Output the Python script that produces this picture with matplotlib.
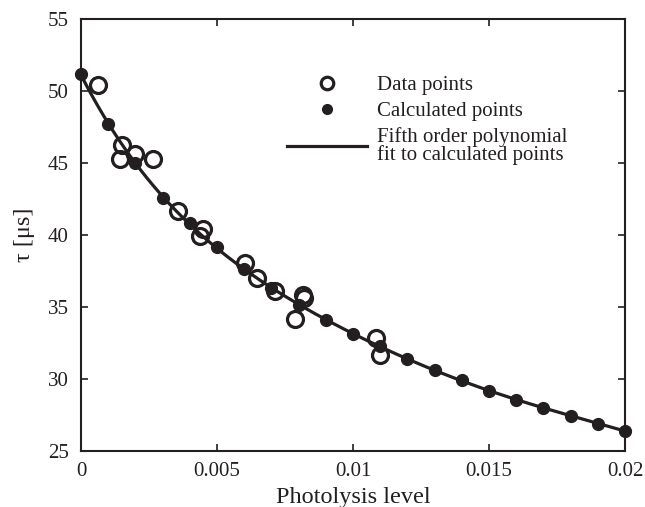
import numpy as np
import matplotlib
matplotlib.use('Agg')
import matplotlib.pyplot as plt
from matplotlib.lines import Line2D

plt.rcParams['font.family'] = ['Liberation Serif', 'DejaVu Serif']

# calculated points
calc_x = [0.0, 0.001, 0.002, 0.003, 0.004, 0.005, 0.006, 0.007, 0.008, 0.009, 0.010,
          0.011, 0.012, 0.013, 0.014, 0.015, 0.016, 0.017, 0.018, 0.019, 0.020]
calc_y = [51.15, 47.7, 45.0, 42.6, 40.8, 39.15, 37.65, 36.3, 35.15, 34.1, 33.1,
          32.3, 31.4, 30.6, 29.9, 29.2, 28.55, 28.0, 27.45, 26.9, 26.4]

# measured data points
data_x = [0.00063, 0.0015, 0.00145, 0.002, 0.00265, 0.00357, 0.0045, 0.00437,
          0.00603, 0.00647, 0.00713, 0.00816, 0.0082, 0.00787, 0.01085, 0.011]
data_y = [50.4, 46.25, 45.3, 45.65, 45.3, 41.7, 40.45, 39.9,
          38.05, 37.0, 36.1, 35.85, 35.6, 34.2, 32.85, 31.7]

coef = np.polyfit(calc_x, calc_y, 5)
fit_x = np.linspace(0, 0.02, 200)
fit_y = np.polyval(coef, fit_x)

ink = '#231f20'

fig = plt.figure(figsize=(6.45, 5.07), dpi=100)
ax = fig.add_axes([0.1256, 0.1105, 0.8434, 0.852])

ax.plot(fit_x, fit_y, color=ink, lw=2.3, zorder=2)
ax.plot(calc_x, calc_y, 'o', color=ink, ms=8.5, zorder=3, clip_on=False)
ax.plot(data_x, data_y, 'o', mfc='none', mec=ink, mew=2.3, ms=11.5, zorder=4)

ax.set_xlim(0, 0.02)
ax.set_ylim(25, 55)
ax.set_xticks([0, 0.005, 0.01, 0.015, 0.02])
ax.set_xticklabels(['0', '0.005', '0.01', '0.015', '0.02'])
ax.set_yticks(range(25, 56, 5))
ax.tick_params(direction='in', top=True, right=True, length=5, width=1.2,
               labelsize=15, colors=ink)
ax.tick_params(axis='y', pad=9)
ax.tick_params(axis='x', pad=8)
for s in ax.spines.values():
    s.set_linewidth(1.5)
    s.set_color(ink)

ax.set_xlabel('Photolysis level', fontsize=17.5, color=ink, labelpad=4)
ax.set_ylabel('τ [μs]', fontsize=17.5, color=ink, labelpad=9)

handles = [
    Line2D([], [], ls='none', marker='o', mfc='none', mec=ink, mew=2.3, ms=9),
    Line2D([], [], ls='none', marker='o', color=ink, ms=7),
    Line2D([], [], color=ink, lw=2.3),
]
labels = ['Data points', 'Calculated points', 'Fifth order polynomial\nfit to calculated points']
leg = ax.legend(handles, labels, loc='upper left', bbox_to_anchor=(0.344, 0.912),
                frameon=False, fontsize=15, handlelength=3.84, handletextpad=0.48,
                labelspacing=0.3)
for t in leg.get_texts():
    t.set_color(ink)
    t.set_linespacing(0.85)

fig.savefig('out.png', dpi=100)
